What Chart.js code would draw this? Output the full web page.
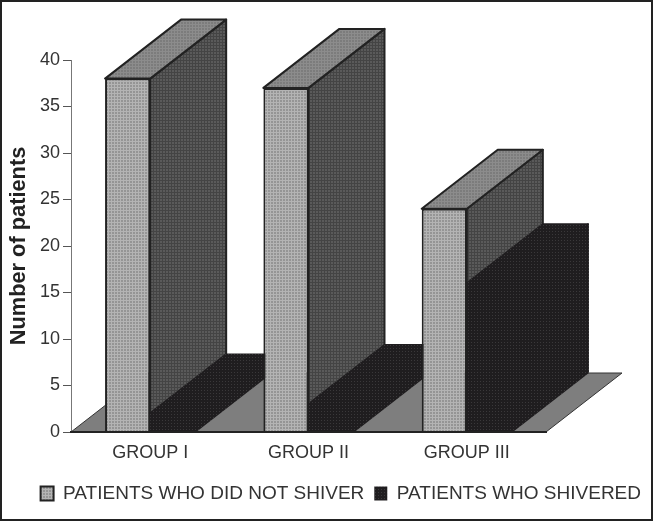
<!DOCTYPE html>
<html>
<head>
<meta charset="utf-8">
<script src="https://cdn.jsdelivr.net/npm/chart.js@4/dist/chart.umd.min.js"></script>
<style>
html, body { margin: 0; padding: 0; background: #fff; }
#wrap { width: 653px; height: 521px; }
</style>
</head>
<body>
<div id="wrap"><canvas id="chart" width="653" height="521"></canvas></div>
<script>
// Data
const categories = ['GROUP I', 'GROUP II', 'GROUP III'];
const didNotShiver = [38, 37, 24];
const shivered = [2, 3, 16];
const yTicks = [0, 5, 10, 15, 20, 25, 30, 35, 40];
const seriesNames = ['PATIENTS WHO DID NOT SHIVER', 'PATIENTS WHO SHIVERED'];

// 3D depth of the bars and the floor
const depthX = 76;
const depthY = 59;
const fontName = '"Liberation Sans", Arial, sans-serif';
const textColor = '#333';

// Small dither tile used as a bar fill
function dither(base, spot, size, grid) {
    const c = document.createElement('canvas');
    c.width = size;
    c.height = size;
    const g = c.getContext('2d');
    g.fillStyle = base;
    g.fillRect(0, 0, size, size);
    g.fillStyle = spot;
    if (grid) {
        g.fillRect(0, 0, size, 1);
        g.fillRect(0, 0, 1, size);
    } else {
        g.fillRect(0, 0, 1, 1);
    }
    return g.createPattern(c, 'repeat');
}

const ctx = document.getElementById('chart').getContext('2d');

const blackFill = dither('#1f1d1f', '#3a383a', 3, false);
const faces = [
    {
        front: dither('#959595', '#b4b4b4', 3, true),
        side: dither('#5a5a5a', '#444', 3, true),
        top: dither('#7c7c7c', '#8c8c8c', 3, true),
        edge: '#222'
    },
    { front: blackFill, side: blackFill, top: blackFill, edge: blackFill }
];

function polygon(c, pts, fill, edge) {
    c.beginPath();
    pts.forEach((p, i) => (i ? c.lineTo(p[0], p[1]) : c.moveTo(p[0], p[1])));
    c.closePath();
    c.fillStyle = fill;
    c.fill();
    c.strokeStyle = edge;
    c.lineWidth = 2;
    c.lineJoin = 'round';
    c.stroke();
}

// Floor first, then the bars group by group so nearer groups cover older ones
const bars3d = {
    id: 'bars3d',
    beforeDatasetsDraw(chart) {
        const c = chart.ctx;
        const area = chart.chartArea;
        c.save();
        c.beginPath();
        c.moveTo(area.left, area.bottom);
        c.lineTo(area.right, area.bottom);
        c.lineTo(area.right + depthX, area.bottom - depthY);
        c.lineTo(area.left + depthX, area.bottom - depthY);
        c.closePath();
        c.fillStyle = '#7e7e7e';
        c.fill();
        c.strokeStyle = '#333';
        c.lineWidth = 1;
        c.stroke();

        categories.forEach((name, i) => {
            chart.data.datasets.forEach((ds, d) => {
                const bar = chart.getDatasetMeta(d).data[i];
                const { x, y, base, width } = bar.getProps(['x', 'y', 'base', 'width'], true);
                const left = x - width / 2;
                const right = x + width / 2;
                const f = faces[d];
                polygon(c, [[right, y], [right + depthX, y - depthY], [right + depthX, base - depthY], [right, base]], f.side, f.edge);
                polygon(c, [[left, y], [left + depthX, y - depthY], [right + depthX, y - depthY], [right, y]], f.top, f.edge);
                bar.draw(c);
            });
        });
        c.restore();
        return false;
    },
    afterDraw(chart) {
        const c = chart.ctx;
        c.save();
        c.strokeStyle = '#222';
        c.lineWidth = 2;
        c.strokeRect(1, 1, chart.width - 2, chart.height - 2);
        c.restore();
    }
};

new Chart(ctx, {
    type: 'bar',
    data: {
        labels: categories,
        datasets: [
            {
                label: seriesNames[0],
                data: didNotShiver,
                backgroundColor: faces[0].front,
                borderColor: faces[0].edge,
                borderWidth: 2
            },
            {
                label: seriesNames[1],
                data: shivered,
                backgroundColor: faces[1].front,
                borderWidth: 0
            }
        ]
    },
    options: {
        responsive: false,
        animation: false,
        categoryPercentage: 0.57,
        barPercentage: 1,
        layout: { padding: { top: 60, right: 2, bottom: 8, left: 0 } },
        plugins: {
            tooltip: { enabled: false },
            legend: {
                position: 'bottom',
                align: 'end',
                labels: {
                    boxWidth: 13,
                    boxHeight: 14,
                    padding: 10,
                    color: textColor,
                    font: { family: fontName, size: 19 }
                }
            }
        },
        scales: {
            x: {
                grid: { drawOnChartArea: false, drawTicks: false },
                border: { color: '#222', width: 2, z: 1 },
                ticks: {
                    padding: 10,
                    color: textColor,
                    font: { family: fontName, size: 18 }
                },
                afterFit(scale) { scale.height = 42; }
            },
            y: {
                min: 0,
                max: 40,
                grid: { drawOnChartArea: false, tickLength: 8, tickColor: '#555' },
                border: { color: '#777', width: 1 },
                afterBuildTicks(scale) { scale.ticks = yTicks.map((v) => ({ value: v })); },
                ticks: {
                    padding: 3,
                    color: textColor,
                    font: { family: fontName, size: 18 }
                },
                title: {
                    display: true,
                    text: 'Number of patients',
                    color: '#222',
                    padding: { top: 6, bottom: 0 },
                    font: { family: fontName, size: 21.8, weight: 'bold' }
                },
                afterFit(scale) { scale.width = 71; }
            },
            yRight: {
                position: 'right',
                display: true,
                grid: { display: false },
                border: { display: false },
                ticks: { display: false },
                afterFit(scale) { scale.width = 105; }
            }
        }
    },
    plugins: [bars3d]
});
</script>
</body>
</html>
